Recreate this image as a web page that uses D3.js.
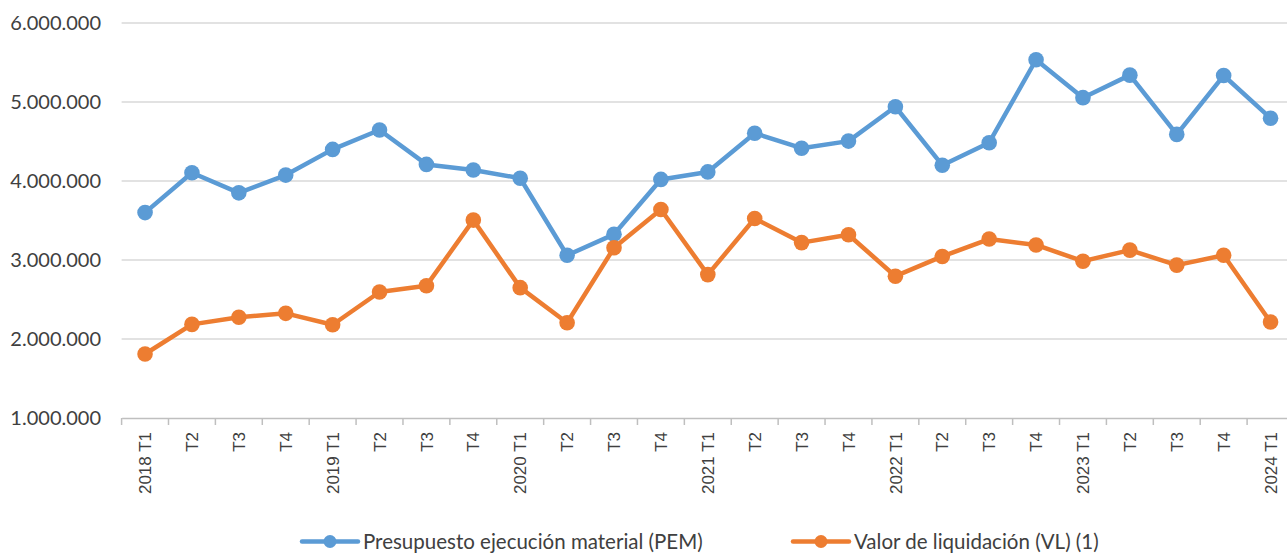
<!DOCTYPE html>
<html>
<head>
<meta charset="utf-8">
<script src="https://cdn.jsdelivr.net/npm/d3@7"></script>
<style>
  body { margin: 0; background: #fff; }
  svg { display: block; font-family: Lato, 'Open Sans', sans-serif; }
</style>
</head>
<body>
<div id="chart"></div>
<script>
const W = 1287;
const H = 554;

const quarters = [
  '2018 T1', 'T2', 'T3', 'T4',
  '2019 T1', 'T2', 'T3', 'T4',
  '2020 T1', 'T2', 'T3', 'T4',
  '2021 T1', 'T2', 'T3', 'T4',
  '2022 T1', 'T2', 'T3', 'T4',
  '2023 T1', 'T2', 'T3', 'T4',
  '2024 T1'
];

const pemValues = [
  3600000, 4105000, 3850000, 4075000,
  4400000, 4645000, 4210000, 4140000,
  4035000, 3060000, 3325000, 4020000,
  4115000, 4605000, 4415000, 4505000,
  4940000, 4200000, 4485000, 5535000,
  5055000, 5340000, 4590000, 5335000,
  4795000
];

const vlValues = [
  1810000, 2185000, 2275000, 2325000,
  2180000, 2595000, 2675000, 3505000,
  2650000, 2205000, 3155000, 3640000,
  2815000, 3525000, 3220000, 3320000,
  2795000, 3045000, 3265000, 3190000,
  2985000, 3125000, 2935000, 3060000,
  2215000
];

const yTicks = [1000000, 2000000, 3000000, 4000000, 5000000, 6000000];

const series = [
  { name: 'Presupuesto ejecución material (PEM)', values: pemValues, color: '#5B9BD5' },
  { name: 'Valor de liquidación (VL) (1)', values: vlValues, color: '#ED7D31' }
];

const PLOT_L = 121.6;
const PLOT_R = 1294;
const PLOT_T = 23;
const PLOT_B = 418;

const svg = d3.select('#chart')
  .append('svg')
  .attr('width', W)
  .attr('height', H);

const x = d3.scaleBand()
  .domain(d3.range(quarters.length))
  .range([PLOT_L, PLOT_R]);

const y = d3.scaleLinear()
  .domain([1000000, 6000000])
  .range([PLOT_B, PLOT_T]);

const fmt = v => d3.format(',')(v).replace(/,/g, '.');

// horizontal gridlines + y labels
svg.append('g')
  .selectAll('line')
  .data(yTicks.filter(t => t > 1000000))
  .enter()
  .append('line')
  .attr('x1', PLOT_L)
  .attr('x2', W)
  .attr('y1', d => y(d))
  .attr('y2', d => y(d))
  .attr('stroke', '#d9d9d9')
  .attr('stroke-width', 1.5);

svg.append('g')
  .selectAll('text')
  .data(yTicks)
  .enter()
  .append('text')
  .attr('x', 101)
  .attr('y', d => y(d))
  .attr('dy', '0.35em')
  .attr('text-anchor', 'end')
  .attr('fill', '#404040')
  .style('font-size', '20px')
  .text(d => fmt(d));

// x axis
const xAxis = d3.axisBottom(x)
  .tickSize(0)
  .tickFormat(i => quarters[i]);

const gx = svg.append('g')
  .attr('transform', `translate(0,${PLOT_B})`)
  .call(xAxis);

gx.select('.domain')
  .attr('stroke', '#bfbfbf')
  .attr('stroke-width', 1.5);

gx.selectAll('.tick text')
  .attr('transform', 'rotate(-90)')
  .attr('x', -14)
  .attr('y', 0)
  .attr('dy', '0.36em')
  .attr('text-anchor', 'end')
  .attr('fill', '#404040')
  .style('font-size', '17px')
  .style('font-family', "'Liberation Sans', Arial, sans-serif");

const boundaries = d3.range(quarters.length + 1).map(i => PLOT_L + i * x.step());
gx.selectAll('.bound')
  .data(boundaries)
  .enter()
  .append('line')
  .attr('class', 'bound')
  .attr('x1', d => d)
  .attr('x2', d => d)
  .attr('y1', 0)
  .attr('y2', 7)
  .attr('stroke', '#bfbfbf')
  .attr('stroke-width', 1.5);

// lines and markers
const line = d3.line()
  .x((d, i) => x(i) + x.bandwidth() / 2)
  .y(d => y(d));

series.forEach(s => {
  svg.append('path')
    .datum(s.values)
    .attr('fill', 'none')
    .attr('stroke', s.color)
    .attr('stroke-width', 4.5)
    .attr('stroke-linejoin', 'round')
    .attr('d', line);

  svg.append('g')
    .selectAll('circle')
    .data(s.values)
    .enter()
    .append('circle')
    .attr('cx', (d, i) => x(i) + x.bandwidth() / 2)
    .attr('cy', d => y(d))
    .attr('r', 7.8)
    .attr('fill', s.color);
});

// legend
const legendItems = [
  { x: 302, s: series[0] },
  { x: 793, s: series[1] }
];
const LEG_Y = 541.5;

const leg = svg.append('g')
  .selectAll('g')
  .data(legendItems)
  .enter()
  .append('g')
  .attr('transform', d => `translate(${d.x},${LEG_Y})`);

leg.append('line')
  .attr('x1', 0)
  .attr('x2', 56)
  .attr('stroke', d => d.s.color)
  .attr('stroke-width', 4.5)
  .attr('stroke-linecap', 'round');

leg.append('circle')
  .attr('cx', 28)
  .attr('r', 6.5)
  .attr('fill', d => d.s.color);

leg.append('text')
  .attr('x', 61)
  .attr('y', 7.5)
  .attr('fill', '#404040')
  .style('font-size', '20.5px')
  .text(d => d.s.name);
</script>
</body>
</html>
